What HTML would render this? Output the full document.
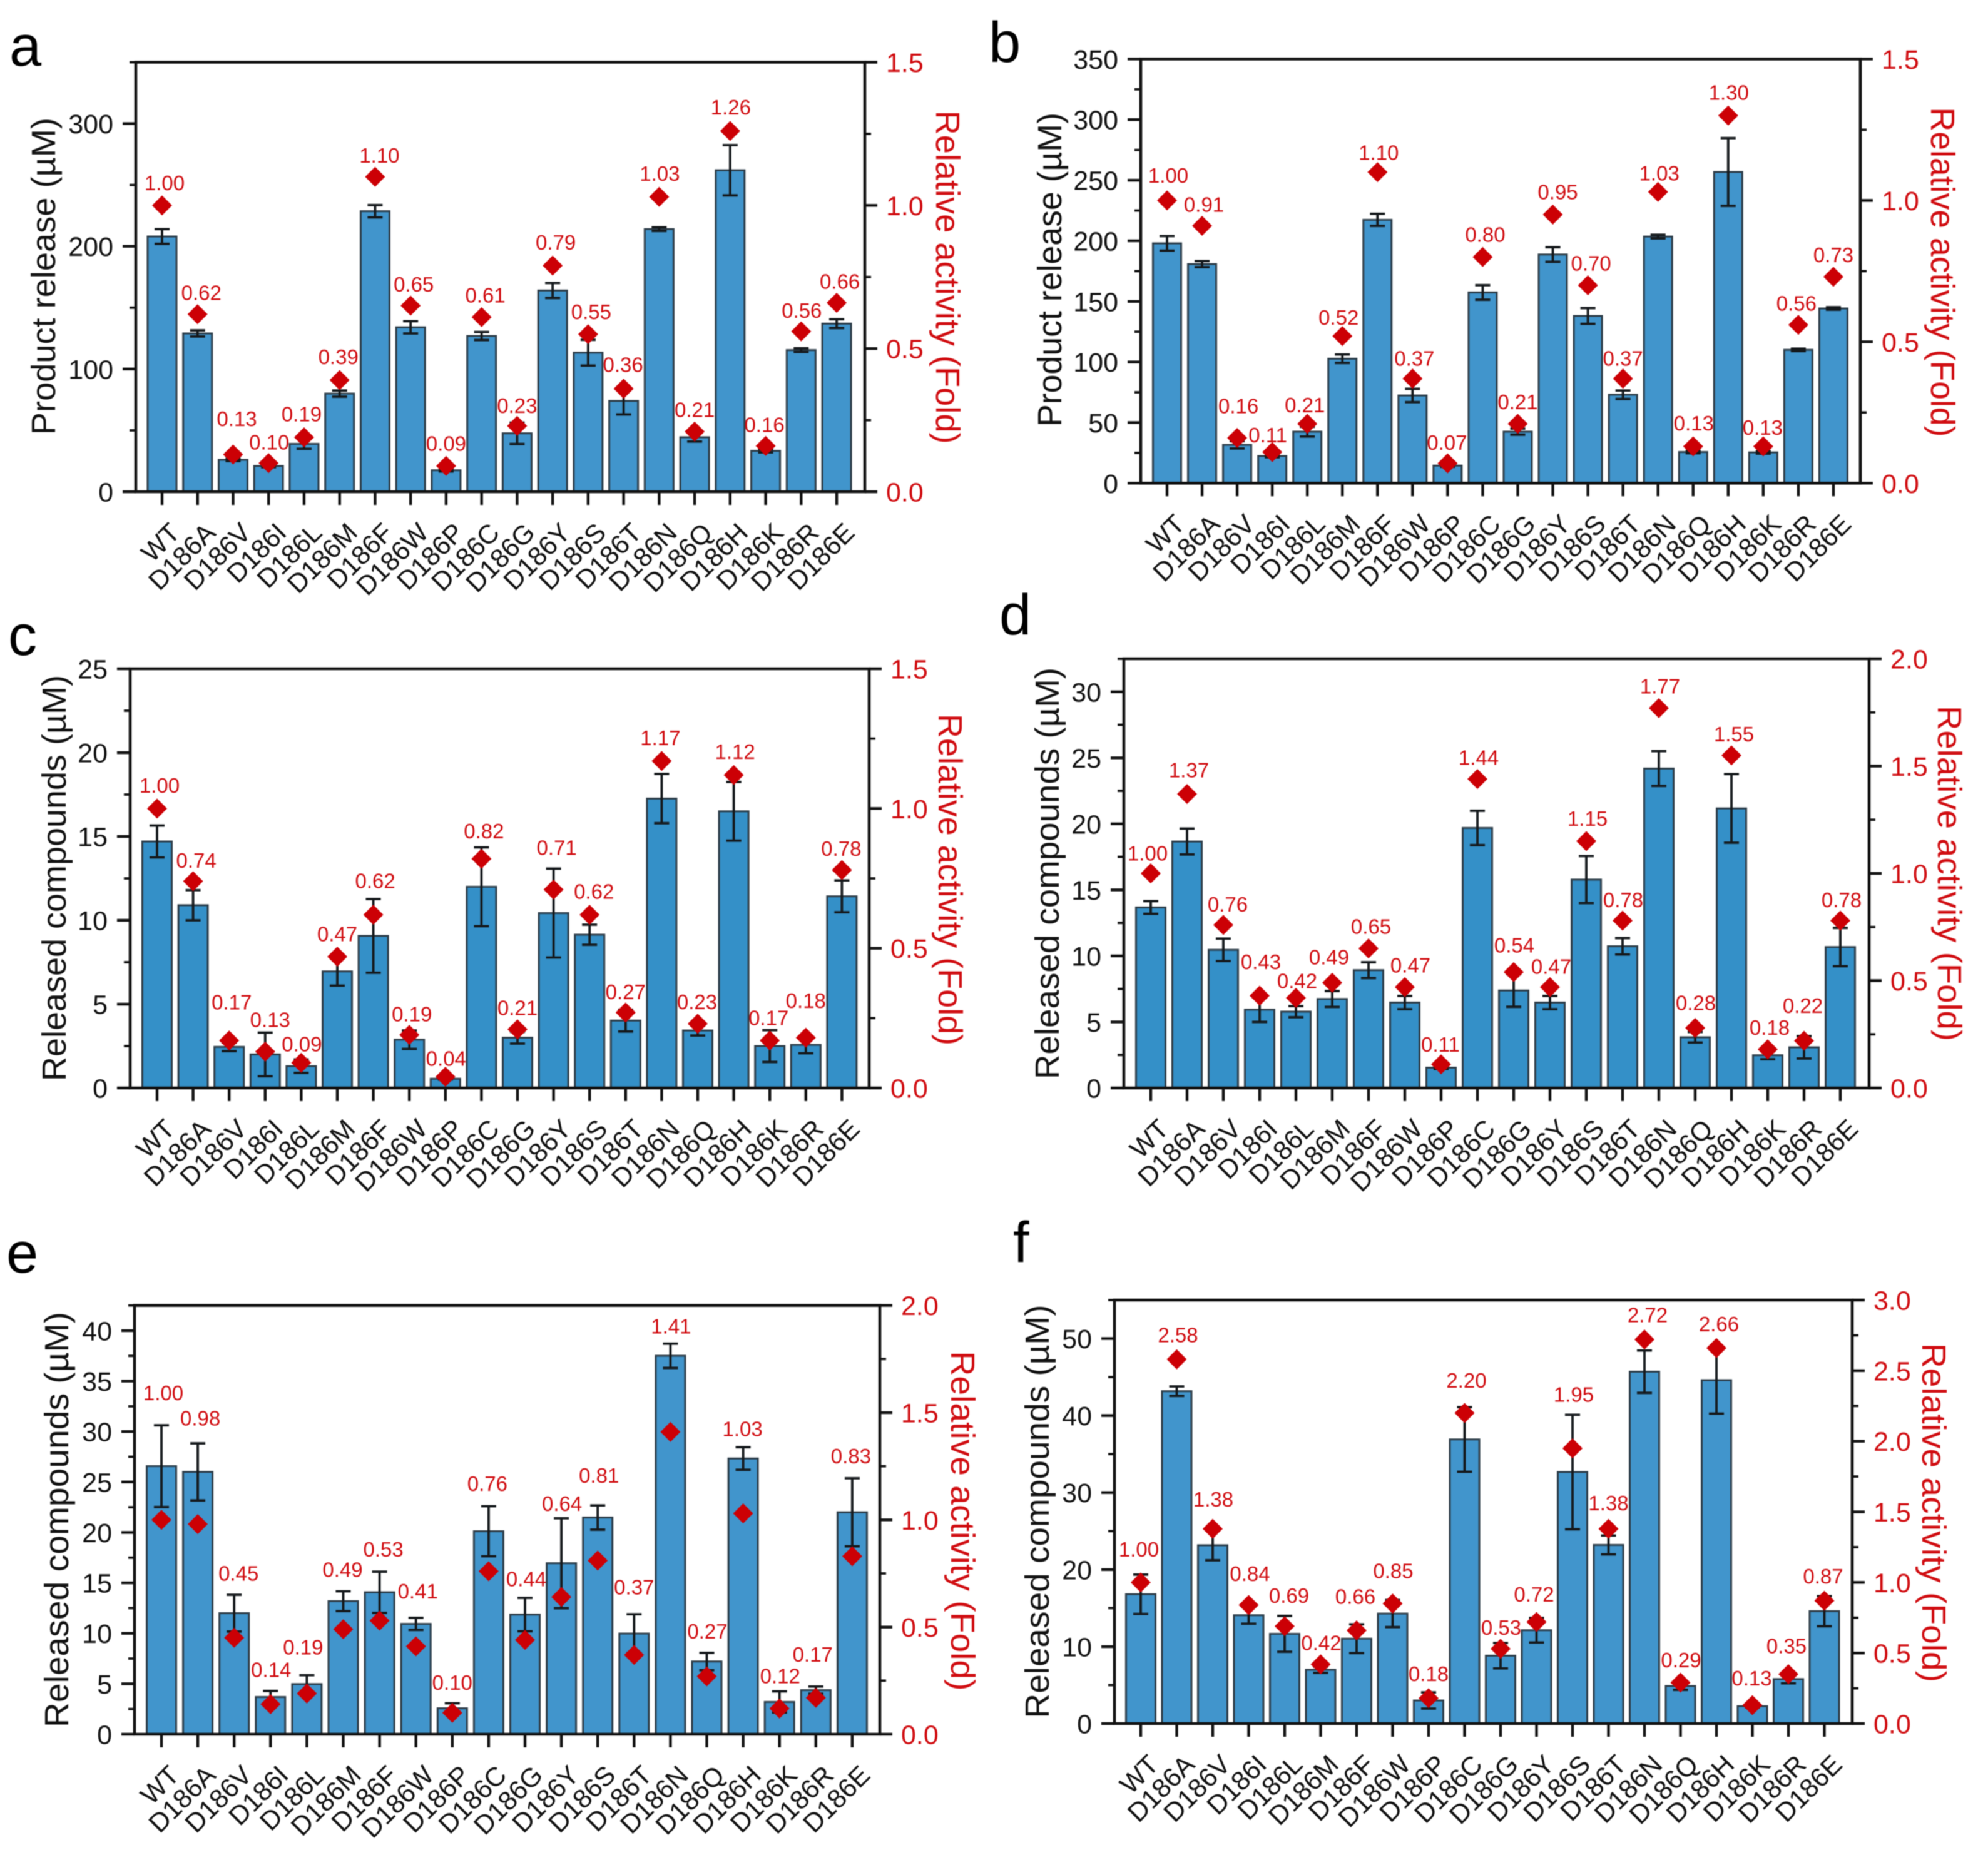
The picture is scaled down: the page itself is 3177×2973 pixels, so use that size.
<!DOCTYPE html>
<html lang="en">
<head>
<meta charset="utf-8">
<title>D186 variant activity panels</title>
<style>
html,body{margin:0;padding:0;background:#fff;width:3177px;height:2973px;overflow:hidden}
svg{display:block;font-family:"Liberation Sans",Arial,sans-serif;filter:blur(0.7px)}
</style>
</head>
<body>
<div id="figure"></div>
<script>
// ---------- DATA ----------
const categories = ["WT","D186A","D186V","D186I","D186L","D186M","D186F","D186W","D186P","D186C","D186G","D186Y","D186S","D186T","D186N","D186Q","D186H","D186K","D186R","D186E"];

const aValues = [208,129,26,21,39,80,228.6,134,17.5,126.9,47.6,164,113.3,74,214,44.4,262,33.3,115.4,137];
const aErrors = [6,2.5,1,1,4,2.5,5,5,1,3.3,8.7,6.1,10.5,11,1.5,3.5,20.5,1.2,1.5,3.6];
const aRelative = [1.00,0.62,0.13,0.10,0.19,0.39,1.10,0.65,0.09,0.61,0.23,0.79,0.55,0.36,1.03,0.21,1.26,0.16,0.56,0.66];
const aLeftTicks = [0,100,200,300];
const aRightTicks = ["0.0","0.5","1.0","1.5"];

const bValues = [197.9,180.8,31.6,22.4,42.5,102.7,217.3,72.4,14.5,157.4,42.5,188.7,138,73,203.5,25.7,256.8,25.4,110,144.2];
const bErrors = [6,2.5,3,1,4,3.5,5,5.5,1,6,2.5,6,6.5,3.5,1.5,1,28,1,1,1];
const bRelative = [1.00,0.91,0.16,0.11,0.21,0.52,1.10,0.37,0.07,0.80,0.21,0.95,0.70,0.37,1.03,0.13,1.30,0.13,0.56,0.73];
const bLeftTicks = [0,50,100,150,200,250,300,350];
const bRightTicks = ["0.0","0.5","1.0","1.5"];

const cValues = [14.7,10.9,2.45,2.0,1.3,6.95,9.07,2.88,0.55,12,3,10.43,9.14,4.02,17.26,3.43,16.5,2.5,2.57,11.43];
const cErrors = [0.95,0.9,0.25,1.3,0.4,0.85,2.2,0.55,0.05,2.35,0.35,2.65,0.6,0.65,1.47,0.3,1.75,0.95,0.5,0.95];
const cRelative = [1.00,0.74,0.17,0.13,0.09,0.47,0.62,0.19,0.04,0.82,0.21,0.71,0.62,0.27,1.17,0.23,1.12,0.17,0.18,0.78];
const cLeftTicks = [0,5,10,15,20,25];
const cRightTicks = ["0.0","0.5","1.0","1.5"];

const dValues = [13.67,18.66,10.46,5.93,5.78,6.74,8.92,6.47,1.54,19.69,7.38,6.47,15.78,10.73,24.19,3.84,21.17,2.48,3.08,10.67];
const dErrors = [0.48,0.98,0.85,0.93,0.42,0.6,0.6,0.5,0.1,1.3,1.23,0.5,1.78,0.62,1.32,0.4,2.6,0.3,0.85,1.45];
const dRelative = [1.00,1.37,0.76,0.43,0.42,0.49,0.65,0.47,0.11,1.44,0.54,0.47,1.15,0.78,1.77,0.28,1.55,0.18,0.22,0.78];
const dLeftTicks = [0,5,10,15,20,25,30];
const dRightTicks = ["0.0","0.5","1.0","1.5","2.0"];

const eValues = [26.57,26,12,3.69,4.97,13.19,14.07,10.94,2.57,20.12,11.86,16.95,21.48,9.98,37.51,7.21,27.33,3.2,4.37,22];
const eErrors = [4.05,2.83,1.82,0.6,0.88,0.98,2.04,0.6,0.5,2.48,1.65,4.46,1.2,1.92,1.2,0.86,1.12,1.05,0.36,3.37];
const eRelative = [1.00,0.98,0.45,0.14,0.19,0.49,0.53,0.41,0.10,0.76,0.44,0.64,0.81,0.37,1.41,0.27,1.03,0.12,0.17,0.83];
const eLeftTicks = [0,5,10,15,20,25,30,35,40];
const eRightTicks = ["0.0","0.5","1.0","1.5","2.0"];

const fValues = [16.8,43.17,23.16,14.08,11.66,6.99,11.03,14.29,3,36.9,8.82,12.13,32.67,23.2,45.7,4.88,44.6,2.26,5.78,14.6];
const fErrors = [2.55,0.62,1.95,1.1,2.33,0.4,1.87,1.75,1.05,4.2,1.65,1.6,7.43,1.22,2.75,0.5,4.35,0.15,0.55,1.95];
const fRelative = [1.00,2.58,1.38,0.84,0.69,0.42,0.66,0.85,0.18,2.20,0.53,0.72,1.95,1.38,2.72,0.29,2.66,0.13,0.35,0.87];
const fLeftTicks = [0,10,20,30,40,50];
const fRightTicks = ["0.0","0.5","1.0","1.5","2.0","2.5","3.0"];

// ---------- PANEL SETUP (layout only; values come from the arrays above) ----------
const panels = [
  {id:"a",values:aValues,errors:aErrors,relative:aRelative,leftTicks:aLeftTicks,rightTicks:aRightTicks,leftMax:350,rightMax:1.5,
   L:217,R:1382,T:99.5,B:786,x0:259,dx:56.74,bw:46,fill:"#4195cc",letter:[15,105],
   yTitle:"Product release (µM)",lt:[88,441.6,507],rt:[1496,443,533],
   lift:[36,34,57,33,37,37,34,34,36,35,32,37,36,38,37,35,38,34,33,34],
   shift:[4,6,6,1,-4,-2,7,5,0,6,0,5,5,-1,1,0,1,-2,1,5]},
  {id:"b",values:bValues,errors:bErrors,relative:bRelative,leftTicks:bLeftTicks,rightTicks:bRightTicks,leftMax:350,rightMax:1.5,
   L:1823,R:2973,T:94.4,B:772.3,x0:1865,dx:56.05,bw:45,fill:"#4195cc",letter:[1580,99],
   yTitle:"Product release (µM)",lt:[1696,431,502],rt:[3086,435,527],
   lift:[40,34,51,27,30,30,31,32,33,36,35,36,35,32,30,37,37,30,34,35],
   shift:[2,3,2,-7,-4,-6,2,3,-1,4,0,8,5,0,2,1,1,-1,-3,0]},
  {id:"c",values:cValues,errors:cErrors,relative:cRelative,leftTicks:cLeftTicks,rightTicks:cRightTicks,leftMax:25,rightMax:1.5,
   L:208,R:1389,T:1069,B:1739,x0:251,dx:57.6,bw:47,fill:"#3490c8",letter:[13,1047],
   yTitle:"Released compounds (µM)",lt:[105,1403.5,649],rt:[1500,1406,530],
   lift:[37,33,61,51,30,36,54,33,29,44,34,67,37,33,37,35,37,36,59,34],
   shift:[4,5,4,8,1,0,3,4,1,4,0,5,7,0,-2,-1,2,-2,0,-1]},
  {id:"d",values:dValues,errors:dErrors,relative:dRelative,leftTicks:dLeftTicks,rightTicks:dRightTicks,leftMax:32.5,rightMax:2,
   L:1796,R:2987,T:1053,B:1739,x0:1839,dx:58,bw:47,fill:"#3490c8",letter:[1597,1014],
   yTitle:"Released compounds (µM)",lt:[1692,1396,658],rt:[3097,1396,536],
   lift:[32,38,33,54,27,41,35,35,32,34,43,33,36,33,35,40,34,35,56,33],
   shift:[-5,3,7,2,2,-5,4,9,-1,2,1,2,2,1,2,1,4,3,-2,2]},
  {id:"e",values:eValues,errors:eErrors,relative:eRelative,leftTicks:eLeftTicks,rightTicks:eRightTicks,leftMax:42.5,rightMax:2,
   L:215,R:1406,T:2086.6,B:2772,x0:258,dx:58.1,bw:47,fill:"#4195cc",letter:[10,2034],
   yTitle:"Released compounds (µM)",lt:[109,2429,664],rt:[1520,2431,543],
   lift:[203,169,103,55,74,95,114,88,48,140,97,149,136,108,169,72,135,52,69,160],
   shift:[3,4,7,1,-6,-1,6,3,0,-2,2,1,2,0,1,1,-1,1,-5,-2]},
  {id:"f",values:fValues,errors:fErrors,relative:fRelative,leftTicks:fLeftTicks,rightTicks:fRightTicks,leftMax:55,rightMax:3,
   L:1781,R:2960,T:2078,B:2755,x0:1823,dx:57.5,bw:47,fill:"#4195cc",letter:[1619,2017],
   yTitle:"Released compounds (µM)",lt:[1676,2416,661],rt:[3072,2418,542],
   lift:[53,39,47,50,49,34,54,52,39,52,34,44,86,41,39,36,38,43,45,39],
   shift:[-3,2,1,2,7,1,-2,1,0,3,1,-4,2,0,5,1,4,-1,-3,-2]}
];

const NS = "http://www.w3.org/2000/svg";
const RED = "#d00c10", MARK = "#cc0005", BLACK = "#111";

function make(parent, tag, attrs, text){
  const n = document.createElementNS(NS, tag);
  for (const k in attrs) n.setAttribute(k, attrs[k]);
  if (text !== undefined) n.textContent = text;
  parent.appendChild(n);
  return n;
}

const root = make(document.getElementById("figure"), "svg", {width:3177,height:2973,viewBox:"0 0 3177 2973"});


make(root, "rect", {x:0,y:0,width:3177,height:2973,fill:"#fff"});

function drawPanel(p){
  const g = make(root, "g", {});
  
  

  // axis functions
  const xAt = i => p.x0 + i * p.dx;
  const yLeft = v => p.B - (v / p.leftMax) * (p.B - p.T);
  const yRight = v => p.B - (v / p.rightMax) * (p.B - p.T);

  // panel letter
  const letter = make(g, "text", {x:p.letter[0],y:p.letter[1],"font-size":92,fill:"#000"}, p.id);
  
  

  // bars
  p.values.forEach((v,i) => {
    const bar = make(g, "rect", {x:xAt(i)-p.bw/2,y:yLeft(v),width:p.bw,height:p.B-yLeft(v),fill:p.fill,stroke:"#2e3e4a","stroke-width":3});
    
    
  });

  // error bars
  p.values.forEach((v,i) => {
    const hi = yLeft(v + p.errors[i]), lo = yLeft(v - p.errors[i]), cx = xAt(i);
    const eb = make(g, "path", {d:`M${cx} ${hi}V${lo}M${cx-12} ${hi}H${cx+12}M${cx-12} ${lo}H${cx+12}`,stroke:"#15191c","stroke-width":3.8,fill:"none"});
    
    
  });

  // axes frame
  const frame = make(g, "path", {d:`M${p.L} ${p.T}V${p.B}M${p.R} ${p.T}V${p.B}M${p.L} ${p.T}H${p.R}M${p.L} ${p.B}H${p.R}`,stroke:BLACK,"stroke-width":4.6,fill:"none","stroke-linecap":"square"});
  
  

  // left ticks
  const lStep = p.leftTicks[1] - p.leftTicks[0];
  p.leftTicks.forEach(v => {
    const t = make(g, "line", {x1:p.L,x2:p.L-21,y1:yLeft(v),y2:yLeft(v),stroke:BLACK,"stroke-width":4.4});
    
    
    const lab = make(g, "text", {x:p.L-36,y:yLeft(v)+15.5,"text-anchor":"end","font-size":43,fill:BLACK}, v);
    
    
  });
  for (let v = lStep/2; v <= p.leftMax + 1e-6; v += lStep){
    const t = make(g, "line", {x1:p.L,x2:p.L-10,y1:yLeft(v),y2:yLeft(v),stroke:BLACK,"stroke-width":3.8});
    
    
  }

  // right ticks
  const rVals = p.rightTicks.map(Number);
  const rStep = rVals[1] - rVals[0];
  p.rightTicks.forEach(s => {
    const v = Number(s);
    const t = make(g, "line", {x1:p.R,x2:p.R+20,y1:yRight(v),y2:yRight(v),stroke:BLACK,"stroke-width":4.4});
    
    
    const lab = make(g, "text", {x:p.R+34,y:yRight(v)+15.5,"font-size":43,fill:RED}, s);
    
    
  });
  for (let v = rStep/2; v < p.rightMax; v += rStep){
    const t = make(g, "line", {x1:p.R,x2:p.R+10,y1:yRight(v),y2:yRight(v),stroke:BLACK,"stroke-width":3.8});
    
    
  }

  // category ticks + labels
  categories.forEach((c,i) => {
    const t = make(g, "line", {x1:xAt(i),x2:xAt(i),y1:p.B,y2:p.B+21,stroke:BLACK,"stroke-width":4.4});
    
    
    const ax = xAt(i) + 31, ay = p.B + 68;
    const lab = make(g, "text", {x:ax,y:ay,"text-anchor":"end","font-size":42.5,fill:BLACK,transform:`rotate(-45 ${ax} ${ay})`}, c);
    
    
  });

  // axis titles
  const lt = make(g, "text", {x:p.lt[0],y:p.lt[1],"text-anchor":"middle","font-size":54,fill:"#111",textLength:p.lt[2],lengthAdjust:"spacingAndGlyphs",transform:`rotate(-90 ${p.lt[0]} ${p.lt[1]})`}, p.yTitle);
  
  
  const rt = make(g, "text", {x:p.rt[0],y:p.rt[1],"text-anchor":"middle","font-size":54,fill:RED,textLength:p.rt[2],lengthAdjust:"spacingAndGlyphs",transform:`rotate(90 ${p.rt[0]} ${p.rt[1]})`}, "Relative activity (Fold)");
  
  

  // relative-activity diamonds + printed values
  p.relative.forEach((r,i) => {
    const cx = xAt(i), cy = yRight(r), s = 16;
    const d = make(g, "polygon", {points:`${cx},${cy-s} ${cx+s},${cy} ${cx},${cy+s} ${cx-s},${cy}`,fill:MARK});
    
    
    const lab = make(g, "text", {x:cx+p.shift[i],y:cy-p.lift[i]+11.5,"text-anchor":"middle","font-size":33,fill:RED}, r.toFixed(2));
    
    
  });
}

panels.forEach(drawPanel);
</script>
</body>
</html>
